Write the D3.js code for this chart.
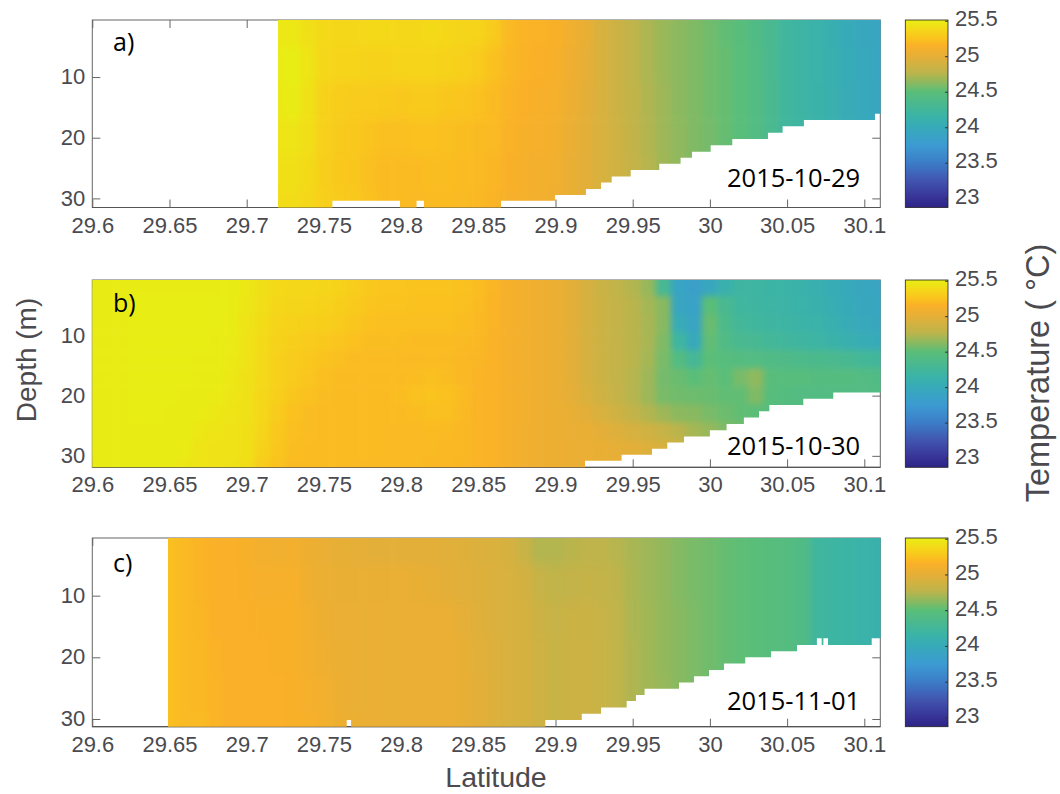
<!DOCTYPE html>
<html><head><meta charset="utf-8">
<script src="https://cdn.jsdelivr.net/npm/d3@7"></script>
<style>html,body{margin:0;padding:0;background:#fff}svg{display:block}</style>
</head><body><svg id="chart" width="1060" height="794"></svg>
<script>
// ---------- data ----------
const latTicks = [29.6,29.65,29.7,29.75,29.8,29.85,29.9,29.95,30,30.05,30.1];
const depthTicks = [10,20,30];
const tempTicks = [23,23.5,24,24.5,25,25.5];
const dates = ["2015-10-29","2015-10-30","2015-11-01"];
const panelNames = ["a)","b)","c)"];

const depthsA = [2,8,14,20,26,31];
const startLatA = 29.72;
const tempA = [ // one row per latitude column (0.01 apart), one value per depth
/*29.72*/[25.47,25.50,25.48,25.45,25.42,25.40],
/*29.73*/[25.47,25.52,25.50,25.45,25.42,25.40],
/*29.74*/[25.42,25.45,25.43,25.41,25.39,25.37],
/*29.75*/[25.38,25.37,25.34,25.33,25.32,25.33],
/*29.76*/[25.37,25.35,25.31,25.29,25.28,25.30],
/*29.77*/[25.37,25.35,25.30,25.28,25.27,25.28],
/*29.78*/[25.38,25.34,25.30,25.25,25.23,25.24],
/*29.79*/[25.38,25.34,25.29,25.23,25.21,25.21],
/*29.80*/[25.37,25.35,25.28,25.23,25.21,25.21],
/*29.81*/[25.37,25.35,25.29,25.24,25.21,25.20],
/*29.82*/[25.38,25.35,25.29,25.24,25.22,25.21],
/*29.83*/[25.37,25.34,25.27,25.23,25.22,25.21],
/*29.84*/[25.36,25.33,25.26,25.22,25.21,25.20],
/*29.85*/[25.35,25.30,25.24,25.21,25.20,25.19],
/*29.86*/[25.30,25.24,25.21,25.20,25.18,25.17],
/*29.87*/[25.20,25.19,25.17,25.16,25.14,25.13],
/*29.88*/[25.17,25.16,25.15,25.13,25.12,25.11],
/*29.89*/[25.16,25.15,25.13,25.12,25.10,25.09],
/*29.90*/[25.14,25.13,25.11,25.09,25.08,25.07],
/*29.91*/[25.08,25.07,25.05,25.03,25.02,25.02],
/*29.92*/[25.02,25.00,24.99,24.98,24.98,24.98],
/*29.93*/[24.92,24.92,24.92,24.92,24.92,24.92],
/*29.94*/[24.85,24.85,24.85,24.86,24.87,24.88],
/*29.95*/[24.78,24.78,24.79,24.80,24.81,24.82],
/*29.96*/[24.72,24.72,24.73,24.74,24.75,24.76],
/*29.97*/[24.67,24.67,24.68,24.68,24.69,24.70],
/*29.98*/[24.63,24.63,24.63,24.64,24.64,24.65],
/*29.99*/[24.60,24.60,24.60,24.60,24.61,24.61],
/*30.00*/[24.56,24.56,24.56,24.57,24.57,24.57],
/*30.01*/[24.52,24.53,24.53,24.53,24.54,24.54],
/*30.02*/[24.48,24.49,24.49,24.49,24.50,24.50],
/*30.03*/[24.40,24.42,24.42,24.42,24.42,24.42],
/*30.04*/[24.32,24.32,24.33,24.33,24.33,24.33],
/*30.05*/[24.22,24.23,24.23,24.23,24.23,24.23],
/*30.06*/[24.18,24.18,24.18,24.19,24.19,24.19],
/*30.07*/[24.13,24.13,24.14,24.14,24.14,24.14],
/*30.08*/[24.07,24.08,24.09,24.09,24.09,24.09],
/*30.09*/[24.00,24.01,24.02,24.03,24.03,24.03],
/*30.10*/[23.95,23.96,23.97,23.98,23.98,23.98],
/*30.11*/[23.92,23.93,23.94,23.95,23.95,23.95]];

const depthsB = [2,5,8,11,14,17,20,23,26,29,32];
const startLatB = 29.6;
const tempB = [
/*29.60*/[25.50,25.50,25.50,25.50,25.50,25.50,25.50,25.50,25.50,25.50,25.49],
/*29.61*/[25.50,25.50,25.50,25.50,25.50,25.50,25.50,25.50,25.50,25.50,25.50],
/*29.62*/[25.50,25.50,25.50,25.50,25.50,25.50,25.50,25.50,25.50,25.50,25.50],
/*29.63*/[25.50,25.51,25.51,25.51,25.51,25.51,25.51,25.51,25.50,25.50,25.50],
/*29.64*/[25.50,25.51,25.51,25.51,25.51,25.51,25.51,25.51,25.50,25.50,25.50],
/*29.65*/[25.50,25.51,25.51,25.51,25.51,25.51,25.51,25.50,25.50,25.50,25.49],
/*29.66*/[25.50,25.51,25.51,25.51,25.51,25.51,25.50,25.50,25.50,25.49,25.47],
/*29.67*/[25.50,25.51,25.51,25.51,25.50,25.50,25.50,25.49,25.47,25.45,25.45],
/*29.68*/[25.50,25.51,25.51,25.50,25.50,25.50,25.49,25.47,25.45,25.44,25.44],
/*29.69*/[25.50,25.50,25.50,25.49,25.48,25.47,25.46,25.45,25.44,25.44,25.43],
/*29.70*/[25.47,25.46,25.45,25.44,25.44,25.43,25.43,25.43,25.42,25.42,25.41],
/*29.71*/[25.42,25.41,25.40,25.39,25.38,25.38,25.37,25.37,25.36,25.34,25.30],
/*29.72*/[25.38,25.37,25.35,25.34,25.33,25.33,25.32,25.30,25.28,25.27,25.25],
/*29.73*/[25.37,25.36,25.34,25.32,25.30,25.30,25.27,25.24,25.23,25.22,25.21],
/*29.74*/[25.37,25.35,25.33,25.30,25.28,25.26,25.24,25.22,25.22,25.21,25.21],
/*29.75*/[25.36,25.34,25.32,25.28,25.25,25.23,25.22,25.21,25.21,25.21,25.21],
/*29.76*/[25.34,25.32,25.30,25.26,25.23,25.21,25.21,25.21,25.21,25.21,25.21],
/*29.77*/[25.31,25.29,25.27,25.24,25.21,25.21,25.21,25.21,25.21,25.21,25.20],
/*29.78*/[25.28,25.26,25.24,25.22,25.21,25.21,25.21,25.21,25.21,25.21,25.20],
/*29.79*/[25.26,25.25,25.23,25.22,25.21,25.21,25.21,25.21,25.20,25.20,25.20],
/*29.80*/[25.26,25.25,25.23,25.22,25.20,25.21,25.22,25.21,25.20,25.20,25.20],
/*29.81*/[25.25,25.24,25.23,25.21,25.20,25.22,25.24,25.22,25.20,25.20,25.20],
/*29.82*/[25.25,25.24,25.23,25.21,25.21,25.23,25.25,25.23,25.21,25.20,25.19],
/*29.83*/[25.25,25.24,25.23,25.21,25.20,25.22,25.24,25.23,25.20,25.19,25.19],
/*29.84*/[25.24,25.23,25.22,25.20,25.19,25.19,25.21,25.20,25.19,25.19,25.18],
/*29.85*/[25.22,25.21,25.20,25.19,25.18,25.17,25.17,25.17,25.17,25.17,25.17],
/*29.86*/[25.18,25.17,25.17,25.16,25.16,25.16,25.16,25.16,25.16,25.16,25.16],
/*29.87*/[25.11,25.11,25.11,25.11,25.11,25.11,25.11,25.11,25.11,25.11,25.11],
/*29.88*/[25.09,25.09,25.09,25.09,25.09,25.09,25.09,25.09,25.08,25.08,25.08],
/*29.89*/[25.07,25.07,25.07,25.07,25.07,25.07,25.07,25.07,25.07,25.07,25.07],
/*29.90*/[25.04,25.04,25.04,25.04,25.04,25.04,25.04,25.05,25.05,25.05,25.05],
/*29.91*/[24.99,24.99,24.99,24.99,24.99,24.99,25.00,25.02,25.03,25.04,25.04],
/*29.92*/[24.91,24.91,24.91,24.91,24.91,24.91,24.93,24.98,25.02,25.03,25.03],
/*29.93*/[24.84,24.85,24.85,24.85,24.85,24.85,24.86,24.92,24.99,25.02,25.03],
/*29.94*/[24.79,24.80,24.80,24.80,24.80,24.80,24.81,24.86,24.95,25.00,25.02],
/*29.95*/[24.74,24.76,24.76,24.76,24.76,24.75,24.75,24.80,24.91,24.98,25.00],
/*29.96*/[24.66,24.70,24.71,24.71,24.70,24.68,24.68,24.74,24.87,24.95,24.98],
/*29.97*/[24.30,24.62,24.62,24.60,24.58,24.57,24.58,24.68,24.82,24.92,24.95],
/*29.98*/[23.90,23.92,24.02,24.20,24.42,24.54,24.56,24.63,24.76,24.88,24.93],
/*29.99*/[23.84,23.86,23.90,23.98,24.28,24.50,24.55,24.62,24.70,24.80,24.88],
/*30.00*/[23.95,24.50,24.54,24.52,24.50,24.53,24.54,24.58,24.66,24.72,24.78],
/*30.01*/[24.10,24.32,24.36,24.40,24.46,24.50,24.52,24.55,24.60,24.65,24.70],
/*30.02*/[24.20,24.22,24.26,24.32,24.44,24.58,24.52,24.52,24.57,24.60,24.64],
/*30.03*/[24.19,24.20,24.22,24.30,24.42,24.64,24.60,24.50,24.54,24.58,24.60],
/*30.04*/[24.17,24.18,24.20,24.26,24.40,24.48,24.46,24.47,24.50,24.54,24.56],
/*30.05*/[24.15,24.16,24.18,24.23,24.38,24.46,24.44,24.45,24.47,24.50,24.52],
/*30.06*/[24.12,24.13,24.15,24.20,24.36,24.46,24.43,24.44,24.45,24.47,24.50],
/*30.07*/[24.08,24.10,24.13,24.18,24.35,24.45,24.42,24.43,24.44,24.45,24.47],
/*30.08*/[24.03,24.05,24.08,24.14,24.33,24.44,24.42,24.42,24.43,24.44,24.45],
/*30.09*/[23.98,24.00,24.02,24.08,24.30,24.44,24.42,24.42,24.42,24.43,24.44],
/*30.10*/[23.94,23.95,23.97,24.03,24.26,24.42,24.42,24.42,24.42,24.42,24.43],
/*30.11*/[23.92,23.94,23.95,24.00,24.24,24.40,24.42,24.42,24.42,24.42,24.42]];

const depthsC = [2,8,14,20,26,31];
const startLatC = 29.65;
const tempC = [
/*29.65*/[25.23,25.23,25.23,25.23,25.23,25.23],
/*29.66*/[25.20,25.20,25.20,25.20,25.20,25.20],
/*29.67*/[25.17,25.17,25.18,25.19,25.19,25.20],
/*29.68*/[25.15,25.15,25.15,25.16,25.17,25.17],
/*29.69*/[25.15,25.15,25.15,25.15,25.15,25.15],
/*29.70*/[25.13,25.14,25.15,25.15,25.15,25.15],
/*29.71*/[25.09,25.12,25.14,25.15,25.15,25.15],
/*29.72*/[25.08,25.12,25.14,25.14,25.15,25.15],
/*29.73*/[25.09,25.13,25.14,25.14,25.14,25.14],
/*29.74*/[25.06,25.07,25.09,25.10,25.11,25.13],
/*29.75*/[25.03,25.04,25.05,25.07,25.09,25.10],
/*29.76*/[25.01,25.02,25.03,25.04,25.05,25.06],
/*29.77*/[25.00,25.02,25.03,25.03,25.03,25.04],
/*29.78*/[24.99,25.02,25.03,25.03,25.03,25.03],
/*29.79*/[24.99,25.02,25.03,25.03,25.03,25.03],
/*29.80*/[24.99,25.03,25.03,25.03,25.03,25.03],
/*29.81*/[24.98,25.02,25.03,25.03,25.03,25.03],
/*29.82*/[24.98,25.01,25.03,25.03,25.03,25.03],
/*29.83*/[24.97,24.99,25.03,25.03,25.03,25.03],
/*29.84*/[24.96,24.97,25.00,25.02,25.02,25.02],
/*29.85*/[24.94,24.95,24.96,24.97,24.98,24.98],
/*29.86*/[24.93,24.94,24.94,24.95,24.95,24.95],
/*29.87*/[24.90,24.92,24.92,24.92,24.92,24.92],
/*29.88*/[24.83,24.89,24.90,24.90,24.90,24.90],
/*29.89*/[24.74,24.82,24.85,24.86,24.86,24.86],
/*29.90*/[24.74,24.79,24.82,24.83,24.83,24.83],
/*29.91*/[24.76,24.80,24.84,24.85,24.85,24.85],
/*29.92*/[24.77,24.81,24.85,24.85,24.85,24.85],
/*29.93*/[24.77,24.80,24.82,24.83,24.83,24.83],
/*29.94*/[24.75,24.77,24.78,24.79,24.79,24.79],
/*29.95*/[24.71,24.72,24.72,24.73,24.73,24.73],
/*29.96*/[24.68,24.68,24.69,24.69,24.69,24.69],
/*29.97*/[24.65,24.65,24.65,24.65,24.66,24.66],
/*29.98*/[24.61,24.61,24.62,24.62,24.62,24.62],
/*29.99*/[24.58,24.58,24.59,24.59,24.59,24.59],
/*30.00*/[24.56,24.56,24.56,24.56,24.56,24.56],
/*30.01*/[24.53,24.53,24.53,24.53,24.53,24.53],
/*30.02*/[24.51,24.51,24.51,24.51,24.51,24.51],
/*30.03*/[24.49,24.49,24.49,24.49,24.49,24.49],
/*30.04*/[24.47,24.47,24.47,24.47,24.47,24.47],
/*30.05*/[24.44,24.44,24.44,24.44,24.44,24.44],
/*30.06*/[24.40,24.40,24.40,24.40,24.40,24.40],
/*30.07*/[24.22,24.22,24.22,24.22,24.22,24.22],
/*30.08*/[24.19,24.19,24.19,24.19,24.19,24.19],
/*30.09*/[24.17,24.17,24.17,24.17,24.17,24.17],
/*30.10*/[24.13,24.13,24.13,24.13,24.13,24.13],
/*30.11*/[24.11,24.11,24.11,24.11,24.11,24.11]];

// seabed: [latitude where the step ends, deepest depth with data]
const startEdgeA = 29.7203;
const floorA = [[29.7555,31.5],[29.7993,30.4],[29.81,31.5],[29.8148,30.4],[29.8647,31.5],[29.8997,30.4],[29.9197,29.45],[29.9295,28.45],[29.9364,27.4],[29.9487,26.4],[29.9672,25.3],[29.981,24.3],[29.9884,23.3],[30.0005,22.3],[30.0145,21.25],[30.0376,20.2],[30.0471,19.2],[30.0609,18.1],[30.1069,17.1],[30.1106,16.05]];
const startEdgeB = 29.6;
const floorB = [[29.9191,31.9],[29.9428,30.83],[29.9625,29.83],[29.9724,28.84],[29.9832,27.8],[30.0,26.8],[30.0108,25.74],[30.022,24.7],[30.0318,23.65],[30.0385,22.6],[30.0605,21.54],[30.0799,20.5],[30.1106,19.5]];
const startEdgeC = 29.649;
const floorC = [[29.7648,31.25],[29.7676,30.15],[29.8934,31.25],[29.917,30.15],[29.9295,29.17],[29.9461,28.15],[29.9521,27.1],[29.9577,26.1],[29.98,25.1],[29.9897,24.1],[29.9994,23.07],[30.0091,22.04],[30.0229,21.0],[30.0396,20.0],[30.0564,19.0],[30.0693,18.0],[30.0724,16.9],[30.0735,18.0],[30.0765,16.9],[30.1048,18.0],[30.1106,16.9]];

// colour bar as it appears in the reference (parula, slightly washed)
const colorValues = [22.87,23.0,23.25,23.5,23.75,24.0,24.17,24.5,24.63,24.77,25.0,25.15,25.25,25.37,25.51];
const colorStops = ["#2d2387","#373296","#4155af","#3c7dc8","#3c9bd2","#37aab9","#3cb4a5","#5abe78","#8cb95f","#beb44b","#e6af37","#fab028","#fac31e","#f5d719","#e8ee14"];

const layout = {
  xLeft:92.3, xRight:880.3,
  panels:[
    {top:20, bottom:207.5, dom:[0.6,31.5], lab:51, date:187, depths:depthsA, temp:tempA, start:startLatA, edge:startEdgeA, floor:floorA, soft:"softWide"},
    {top:280, bottom:467.3, dom:[0.8,31.9], lab:312, date:455, depths:depthsB, temp:tempB, start:startLatB, edge:startEdgeB, floor:floorB, soft:"softFine"},
    {top:538, bottom:726.7, dom:[0.65,31.25], lab:572, date:710, depths:depthsC, temp:tempC, start:startLatC, edge:startEdgeC, floor:floorC, soft:"softWide"}
  ]
};

const svg = d3.select("#chart");
const defs = svg.append("defs");
const sans = '"Liberation Sans", Arial, sans-serif';
const inkGrey = "#4a4a4f";
const tempDomain = [22.87,25.51];
const color = d3.scaleLinear().domain(colorValues).range(colorStops).interpolate(d3.interpolateRgb).clamp(true);

[["softWide","3 6"],["softFine","3 3"]].forEach(([id,dev])=>{
  defs.append("filter").attr("id",id).attr("filterUnits","userSpaceOnUse")
    .attr("x",0).attr("y",0).attr("width",1060).attr("height",794)
    .attr("color-interpolation-filters","sRGB")
    .append("feGaussianBlur").attr("stdDeviation",dev);
});

const grad = defs.append("linearGradient").attr("id","cbar").attr("x1",0).attr("y1",1).attr("x2",0).attr("y2",0);
colorStops.forEach((c,i)=>grad.append("stop")
  .attr("offset",(colorValues[i]-tempDomain[0])/(tempDomain[1]-tempDomain[0])).attr("stop-color",c));

const x = d3.scaleLinear().domain([29.6,29.6+(layout.xRight-layout.xLeft)/1544]).range([layout.xLeft,layout.xRight]);
const fmtLat = d => String(+d.toFixed(2));

layout.panels.forEach((p,pi)=>{
  const y = d3.scaleLinear().domain(p.dom).range([p.top,p.bottom]);
  const g = svg.append("g");
  g.append("rect").attr("x",layout.xLeft).attr("y",p.top).attr("width",layout.xRight-layout.xLeft).attr("height",p.bottom-p.top)
    .attr("fill","#fff").attr("stroke","#666").attr("stroke-width",1);
  const style = (ax)=>{ ax.select(".domain").remove(); ax.selectAll("line").attr("stroke","#666"); };
  const xb = g.append("g").attr("transform",`translate(0,${p.bottom})`)
    .call(d3.axisBottom(x).tickValues(latTicks).tickFormat(fmtLat).tickSizeInner(-8).tickSizeOuter(0));
  style(xb);
  xb.selectAll("text").attr("y",25).attr("dy",0).attr("font-family",sans).attr("font-size",22).attr("fill",inkGrey);
  const xt = g.append("g").attr("transform",`translate(0,${p.top})`)
    .call(d3.axisTop(x).tickValues(latTicks).tickFormat("").tickSizeInner(-8).tickSizeOuter(0));
  style(xt);
  const yl = g.append("g").attr("transform",`translate(${layout.xLeft},0)`)
    .call(d3.axisLeft(y).tickValues(depthTicks).tickSizeInner(-8).tickSizeOuter(0));
  style(yl);
  yl.selectAll("text").attr("x",-7).attr("dy","0.3em").attr("font-family",sans).attr("font-size",22).attr("fill",inkGrey);
  const yr = g.append("g").attr("transform",`translate(${layout.xRight},0)`)
    .call(d3.axisRight(y).tickValues(depthTicks).tickFormat("").tickSizeInner(-8).tickSizeOuter(0));
  style(yr);
  g.append("line").attr("x1",layout.xLeft).attr("x2",layout.xRight).attr("y1",p.bottom).attr("y2",p.bottom).attr("stroke","#555").attr("stroke-width",1.2);

  const pts = [[p.edge,p.dom[0]],[p.edge,p.floor[0][1]]];
  let prev = p.edge;
  p.floor.forEach(([end,d])=>{ pts.push([prev,d]); pts.push([end,d]); prev=end; });
  pts.push([prev,p.dom[0]]);
  const line = d3.line().x(d=>x(d[0])).y(d=>y(d[1]));
  defs.append("clipPath").attr("id","water"+pi).append("path").attr("d",line(pts)+"Z");

  const halfCol = 0.005;
  const edges = p.depths.map((d,i)=> i===0 ? p.dom[0]-5 : (p.depths[i-1]+d)/2);
  edges.push(p.dom[1]+5);
  const cells = [];
  p.temp.forEach((col,ci)=>col.forEach((v,ri)=>cells.push({
    lat:+(p.start+ci*0.01).toFixed(2), ri, v, extraLeft:ci===0, extraRight:ci===p.temp.length-1 })));
  const clip = svg.append("g").attr("clip-path",`url(#water${pi})`);
  const colW = x(29.61)-x(29.6);
  clip.append("g").attr("filter",`url(#${p.soft})`)
    .selectAll("rect").data(cells).join("rect")
    .attr("x",d=>x(d.lat-halfCol)-0.3-(d.extraLeft?colW:0))
    .attr("width",d=>colW+0.6+(d.extraLeft||d.extraRight?colW:0))
    .attr("y",d=>y(edges[d.ri])-0.3)
    .attr("height",d=>y(edges[d.ri+1])-y(edges[d.ri])+0.6)
    .attr("fill",d=>color(d.v));

  svg.append("text").attr("x",113).attr("y",p.lab).text(panelNames[pi])
    .attr("font-family",'"Open Sans", sans-serif').attr("font-size",25).attr("fill","#000");
  svg.append("text").attr("x",727).attr("y",p.date).text(dates[pi])
    .attr("font-family",'"Open Sans", sans-serif').attr("font-size",25.5).attr("fill","#000");

  const cbx0=905.3, cbx1=948;
  const cy = d3.scaleLinear().domain(tempDomain).range([p.bottom,p.top]);
  svg.append("rect").attr("x",cbx0).attr("y",p.top).attr("width",cbx1-cbx0).attr("height",p.bottom-p.top)
    .attr("fill","url(#cbar)").attr("stroke","#222").attr("stroke-width",0.8);
  const cax = svg.append("g").attr("transform",`translate(${cbx1},0)`)
    .call(d3.axisRight(cy).tickValues(tempTicks).tickFormat(d=>String(d)).tickSizeInner(-3).tickSizeOuter(0));
  cax.select(".domain").remove();
  cax.selectAll("line").attr("stroke","#333");
  cax.selectAll("text").attr("x",7).attr("dy",5).attr("font-family",sans).attr("font-size",22).attr("fill",inkGrey);
});

svg.append("text").attr("x",496).attr("y",787).attr("text-anchor","middle").text("Latitude")
  .attr("font-family",sans).attr("font-size",28.5).attr("fill",inkGrey);
svg.append("text").attr("transform","translate(36,360) rotate(-90)").attr("text-anchor","middle").text("Depth (m)")
  .attr("font-family",sans).attr("font-size",28).attr("fill",inkGrey);
svg.append("text").attr("transform","translate(1049,373) rotate(-90)").attr("text-anchor","middle").text("Temperature ( °C)")
  .attr("font-family",sans).attr("font-size",32.5).attr("fill",inkGrey);
</script></body></html>
